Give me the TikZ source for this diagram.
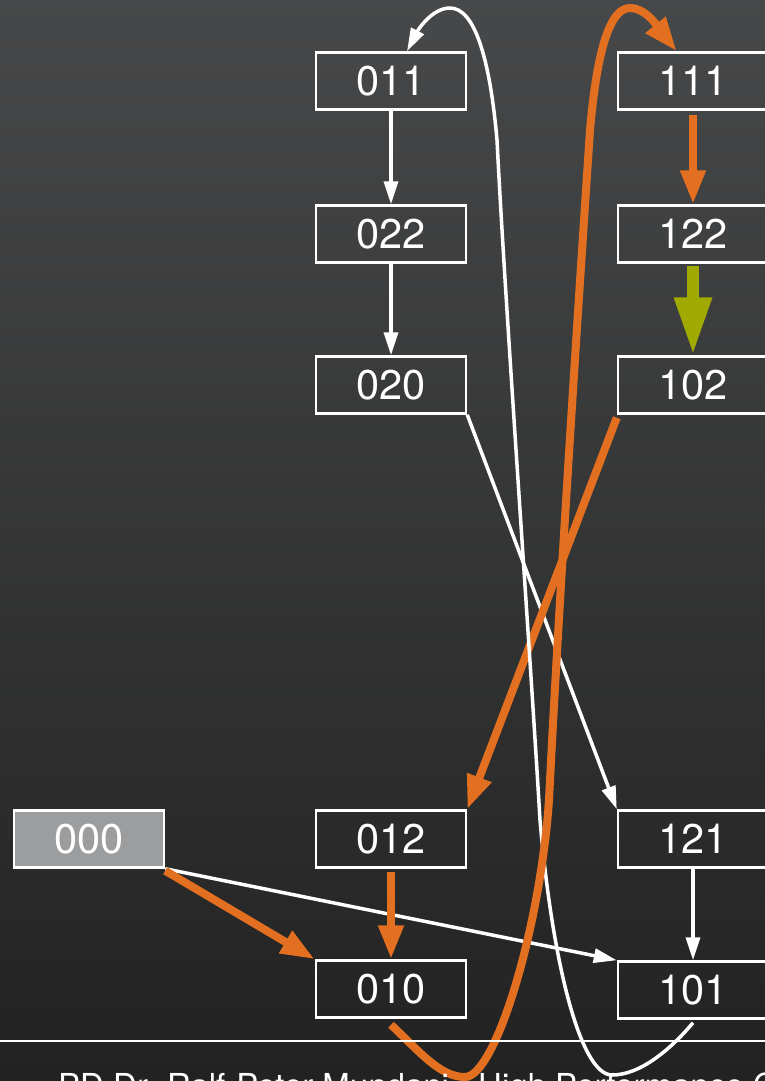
\documentclass[tikz,border=0pt]{standalone}
\usepackage{fontspec}
\setmainfont{TeX Gyre Heros}
\usetikzlibrary{arrows.meta}
\definecolor{bgtop}{RGB}{71,72,73}
\definecolor{bgbot}{RGB}{34,34,34}
\definecolor{orng}{RGB}{226,112,32}
\definecolor{olivegreen}{RGB}{160,170,0}
\definecolor{boxgray}{RGB}{156,157,159}
\begin{document}
\begin{tikzpicture}[x=1pt,y=-1pt,
  box/.style={draw=white, line width=2.5pt, minimum width=150pt, minimum height=57pt,
    inner sep=0pt, text=white, font=\fontsize{41.5pt}{48pt}\selectfont, anchor=center},
  wline/.style={draw=white, line width=3.5pt, -{Triangle[length=23pt,width=14pt]}},
  oline/.style={draw=orng, line width=8pt, -{Triangle[length=34pt,width=24pt]}},
  gline/.style={draw=olivegreen, line width=12pt, -{Triangle[length=58pt,width=35pt]}},
  foot/.style={anchor=base west, text=white, inner sep=0pt, font=\fontsize{33pt}{40pt}\selectfont}
]
\useasboundingbox (0,0) rectangle (765,1081);
\shade[top color=bgtop, bottom color=bgbot] (0,0) rectangle (765,1081);

\node[box] (n011) at (391,81) {011};
\node[box] (n022) at (391,234) {022};
\node[box] (n020) at (391,385) {020};
\node[box] (n111) at (693,81) {111};
\node[box] (n122) at (693,234) {122};
\node[box] (n102) at (693,385) {102};
\node[box, fill=boxgray] (n000) at (89,839) {000};
\node[box] (n012) at (391,839) {012};
\node[box] (n121) at (693,839) {121};
\node[box] (n010) at (391,989) {010};
\node[box] (n101) at (693,990) {101};

\draw[wline] (n011) -- (n022);
\draw[wline] (n022) -- (n020);
\draw[wline] (n020.south east) -- (n121.north west);
\draw[wline] (n121) -- (n101);
\draw[wline] (n000.south east) -- (n101.north west);

\draw[oline] ([yshift=-2pt]n000.south east) -- (n010.north west);
\draw[oline, shorten <=3pt] (n012) -- (n010);
\draw[oline, shorten <=4pt] (n111) -- (n122);
\draw[gline, shorten <=2pt] (n122) -- (n102);
\draw[oline] ([yshift=-3pt]n102.south west) -- (n012.north east);

\draw[wline] ([yshift=-3pt]n101.south) .. controls (670,1050) and (640,1075) .. (612,1075)
  .. controls (580,1075) and (552,960) .. (540,820)
  .. controls (530,650) and (505,300) .. (497,140)
  .. controls (490,60) and (475,8) .. (450,8)
  .. controls (432,8) and (418,30) .. ([xshift=16pt]n011.north);

\draw[oline] ([yshift=-6pt]n010.south) .. controls (420,1052) and (440,1077) .. (465,1077)
  .. controls (495,1077) and (540,930) .. (549,800)
  .. controls (560,580) and (582,250) .. (590,130)
  .. controls (597,50) and (610,8) .. (630,8)
  .. controls (648,8) and (662,33) .. ([xshift=60pt]n111.north west);

\draw[white, line width=2pt] (0,1041) -- (765,1041);
\node[foot] (f1) at (58,1097) {PD Dr. Ralf-Peter Mundani};
\node[foot] (f2) at (478,1097) {High Performance Computing};
\end{tikzpicture}
\end{document}
